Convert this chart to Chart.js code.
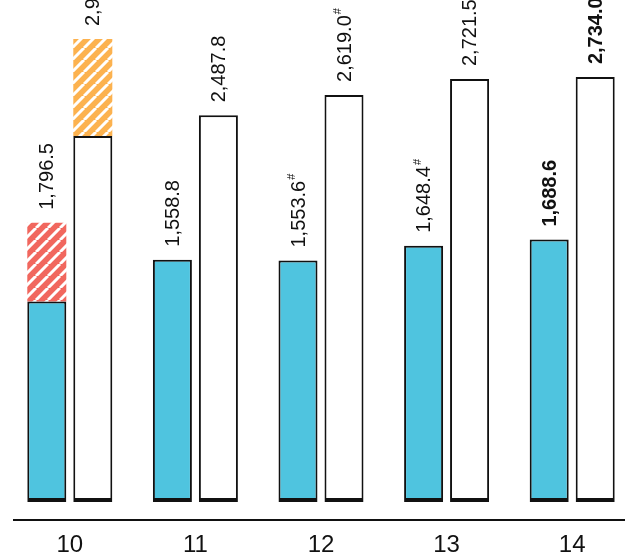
<!DOCTYPE html>
<html><head><meta charset="utf-8">
<script src="https://cdn.jsdelivr.net/npm/chart.js@4.4.1/dist/chart.umd.min.js"></script>
<style>
html,body{margin:0;padding:0;background:#fff;overflow:hidden;}
#wrap{position:absolute;left:0;top:0;width:650px;height:560px;}
</style></head><body>
<div id="wrap"><canvas id="c"></canvas></div>
<script>
// Categories along the x axis
const categories = ['10', '11', '12', '13', '14'];
// Left bar of each pair (solid blue) and its hatched add-on
const leftBase  = [1290.0, 1558.8, 1553.6, 1648.4, 1688.6];
const leftExtra = [506.5, null, null, null, null];
// Right bar of each pair (white) and its hatched add-on
const rightBase  = [2355.0, 2487.8, 2619.0, 2721.5, 2734.0];
const rightExtra = [624.0, null, null, null, null];
// Footnote markers (#) on the value labels, and the highlighted group
const leftMarked  = [false, false, true, true, false];
const rightMarked = [false, false, true, true, false];
const boldGroup   = [false, false, false, false, true];

const INK = '#111111';
const BLUE = '#4FC4DF';
const RED = '#F1675E';
const ORANGE = '#FCB24F';
const LABEL_FONT = '"Liberation Sans", Arial, sans-serif';
const TICK_FONT = '"Liberation Sans Narrow", "Liberation Sans", sans-serif';

function hatch(color) {
  const s = 12;
  const p = document.createElement('canvas');
  p.width = s; p.height = s;
  const g = p.getContext('2d');
  g.fillStyle = color;
  g.fillRect(0, 0, s, s);
  g.strokeStyle = '#ffffff';
  g.lineWidth = 3;
  g.beginPath();
  for (let k = -1; k <= 1; k++) {
    g.moveTo(k * s, s);
    g.lineTo(k * s + s, 0);
  }
  g.stroke();
  return g.createPattern(p, 'repeat');
}

const outlined = { left: 2, right: 2, top: 2, bottom: 4 };

// Rotated value labels above each stack
const valueLabels = {
  id: 'valueLabels',
  afterDatasetsDraw(chart) {
    const ctx = chart.ctx;
    const yScale = chart.scales.y;
    const groups = [
      { meta: 0, base: leftBase, extra: leftExtra, marked: leftMarked },
      { meta: 2, base: rightBase, extra: rightExtra, marked: rightMarked }
    ];
    groups.forEach(g => {
      const elems = chart.getDatasetMeta(g.meta).data;
      categories.forEach((c, i) => {
        const total = g.base[i] + (g.extra[i] || 0);
        const x = elems[i].x;
        const top = yScale.getPixelForValue(total);
        const text = total.toLocaleString('en-US', { minimumFractionDigits: 1, maximumFractionDigits: 1 });
        ctx.save();
        ctx.translate(x + 1, top - 13);
        ctx.rotate(-Math.PI / 2);
        ctx.fillStyle = INK;
        ctx.textAlign = 'left';
        ctx.textBaseline = 'middle';
        ctx.font = (boldGroup[i] ? 'bold ' : '') + '20px ' + LABEL_FONT;
        ctx.fillText(text, 0, 0);
        if (g.marked[i]) {
          const w = ctx.measureText(text).width;
          ctx.font = '11px ' + LABEL_FONT;
          ctx.fillText('#', w + 1, -7);
        }
        ctx.restore();
      });
    });
  }
};

// Baseline rule under the bars
const axisRule = {
  id: 'axisRule',
  afterDraw(chart) {
    const ctx = chart.ctx;
    const y = chart.chartArea.bottom + 18;
    ctx.save();
    ctx.strokeStyle = INK;
    ctx.lineWidth = 2;
    ctx.beginPath();
    ctx.moveTo(13, y);
    ctx.lineTo(chart.width, y);
    ctx.stroke();
    ctx.restore();
  }
};

function draw() {
  new Chart(document.getElementById('c'), {
    type: 'bar',
    data: {
      labels: categories,
      datasets: [
        { data: leftBase, stack: 'left', backgroundColor: BLUE, borderColor: INK, borderWidth: outlined, borderSkipped: false },
        { data: leftExtra, stack: 'left', backgroundColor: hatch(RED), borderColor: RED, borderWidth: 0, borderSkipped: false },
        { data: rightBase, stack: 'right', backgroundColor: '#ffffff', borderColor: INK, borderWidth: outlined, borderSkipped: false },
        { data: rightExtra, stack: 'right', backgroundColor: hatch(ORANGE), borderColor: ORANGE, borderWidth: 0, borderSkipped: false }
      ]
    },
    options: {
      responsive: true,
      maintainAspectRatio: false,
      animation: false,
      devicePixelRatio: 1,
      categoryPercentage: 0.7325,
      barPercentage: 0.848,
      layout: { padding: { left: 7, right: 15, top: 0, bottom: 0 } },
      plugins: { legend: { display: false }, tooltip: { enabled: false } },
      scales: {
        x: {
          stacked: true,
          grid: { display: false, drawTicks: false },
          border: { display: false },
          ticks: { padding: 29, color: INK, font: { family: TICK_FONT, size: 24 } },
          afterFit(s) { s.height = 58; }
        },
        y: { stacked: true, display: false, min: 0, max: 3230 }
      }
    },
    plugins: [valueLabels, axisRule]
  });
}

Promise.all([
  document.fonts.load('20px "Liberation Sans"'),
  document.fonts.load('bold 20px "Liberation Sans"'),
  document.fonts.load('24px "Liberation Sans Narrow"')
]).then(draw, draw);
</script>
</body></html>
